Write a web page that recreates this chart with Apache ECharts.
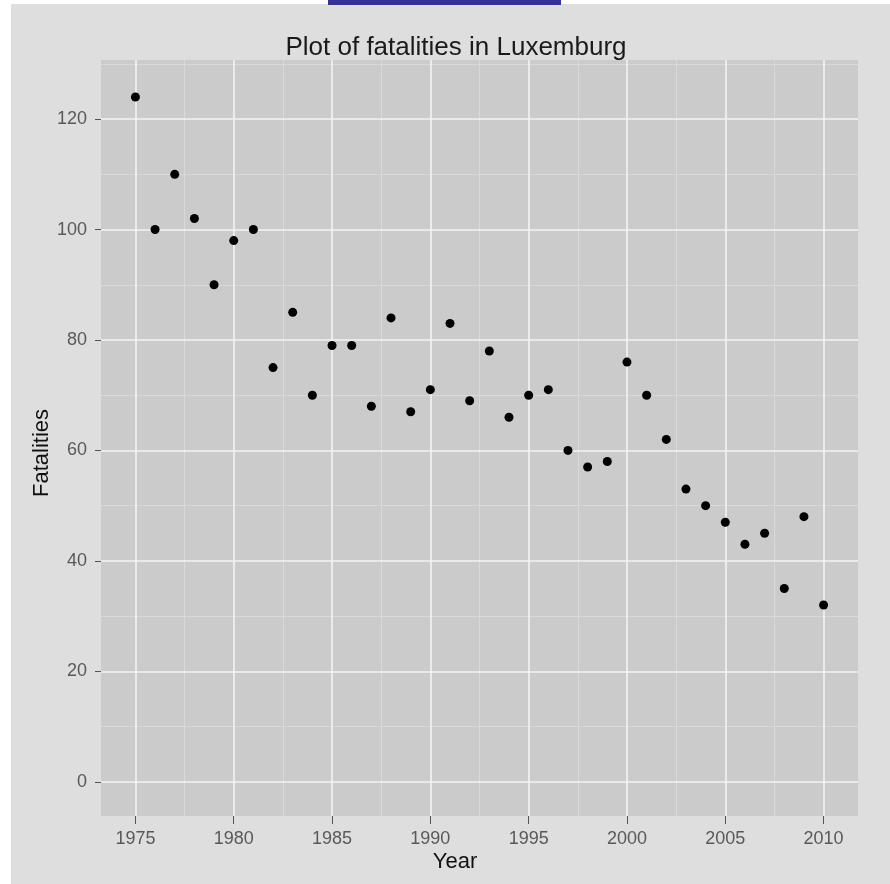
<!DOCTYPE html>
<html><head><meta charset="utf-8">
<script src="https://cdn.jsdelivr.net/npm/echarts@6/dist/echarts.min.js"></script>
<style>html,body{margin:0;padding:0;background:#ffffff}#c{width:890px;height:884px}</style>
</head><body><div id="c"></div>
<script>
// ---- data ----
const years = [1975,1976,1977,1978,1979,1980,1981,1982,1983,1984,1985,1986,1987,1988,1989,1990,1991,1992,1993,1994,1995,1996,1997,1998,1999,2000,2001,2002,2003,2004,2005,2006,2007,2008,2009,2010];
const fatalities = [124,100,110,102,90,98,100,75,85,70,79,79,68,84,67,71,83,69,78,66,70,71,60,57,58,76,70,62,53,50,47,43,45,35,48,32];
const xTicks = [1975,1980,1985,1990,1995,2000,2005,2010];
const xMinor = [1977.5,1982.5,1987.5,1992.5,1997.5,2002.5,2007.5];
const yTicks = [0,20,40,60,80,100,120];
const yMinor = [10,30,50,70,90,110,130];
const titleText = 'Plot of fatalities in Luxemburg';
const xTitle = 'Year';
const yTitle = 'Fatalities';

const FONT = 'Liberation Sans, Arial, sans-serif';
const majorColor = '#f3f3f3', minorColor = '#d9d9d9';
const points = years.map((y, i) => [y, fatalities[i]]);

const gridLines = []
  .concat(xMinor.map(v => ({xAxis: v, lineStyle: {color: minorColor, width: 1, type: 'solid'}})))
  .concat(yMinor.map(v => ({yAxis: v, lineStyle: {color: minorColor, width: 1, type: 'solid'}})))
  .concat(xTicks.map(v => ({xAxis: v, lineStyle: {color: majorColor, width: 1.6, type: 'solid'}})))
  .concat(yTicks.map(v => ({yAxis: v, lineStyle: {color: majorColor, width: 1.6, type: 'solid'}})));

const chart = echarts.init(document.getElementById('c'), null, {renderer: 'canvas'});
chart.setOption({
  animation: false,
  backgroundColor: '#dedede',
  grid: {left: 101, right: 32, top: 60, bottom: 68, show: true, backgroundColor: '#cbcbcb', borderWidth: 0},
  xAxis: {
    type: 'value', min: 1973.25, max: 2011.75, position: 'bottom',
    axisLine: {show: false, onZero: false},
    splitLine: {show: false},
    axisTick: {show: true, inside: false, length: 8, lineStyle: {color: '#555', width: 1}, customValues: xTicks},
    axisLabel: {customValues: xTicks, margin: 14, fontSize: 18, color: '#595959', fontFamily: FONT, formatter: v => String(v)}
  },
  yAxis: {
    type: 'value', min: -6.2, max: 130.7, position: 'left',
    axisLine: {show: false, onZero: false},
    splitLine: {show: false},
    axisTick: {show: true, inside: false, length: 6, lineStyle: {color: '#555', width: 1}, customValues: yTicks},
    axisLabel: {customValues: yTicks, margin: 14, fontSize: 18, color: '#595959', fontFamily: FONT, formatter: v => String(v)}
  },
  series: [
    {
      type: 'scatter', data: [], z: 1, silent: true,
      markLine: {silent: true, symbol: ['none', 'none'], label: {show: false}, animation: false, data: gridLines}
    },
    {
      type: 'scatter', data: points, z: 5, symbol: 'circle', symbolSize: 9,
      itemStyle: {color: '#000000', opacity: 1, borderWidth: 0}
    }
  ],
  graphic: [
    {type: 'rect', shape: {x: 0, y: 0, width: 11, height: 884}, style: {fill: '#ffffff'}, z: 10},
    {type: 'rect', shape: {x: 0, y: 0, width: 890, height: 4}, style: {fill: '#ffffff'}, z: 10},
    {type: 'rect', shape: {x: 328, y: 0, width: 233, height: 5}, style: {fill: '#333399'}, z: 11},
    {type: 'text', x: 456, y: 48, style: {text: titleText, fontSize: 26, fontFamily: FONT, fill: '#1a1a1a', align: 'center', verticalAlign: 'middle'}, z: 10},
    {type: 'text', x: 455, y: 862, style: {text: xTitle, fontSize: 22, fontFamily: FONT, fill: '#111', align: 'center', verticalAlign: 'middle'}, z: 10},
    {type: 'text', x: 42, y: 453, rotation: Math.PI / 2, style: {text: yTitle, fontSize: 22, fontFamily: FONT, fill: '#111', align: 'center', verticalAlign: 'middle'}, z: 10}
  ]
});
</script>
</body></html>
